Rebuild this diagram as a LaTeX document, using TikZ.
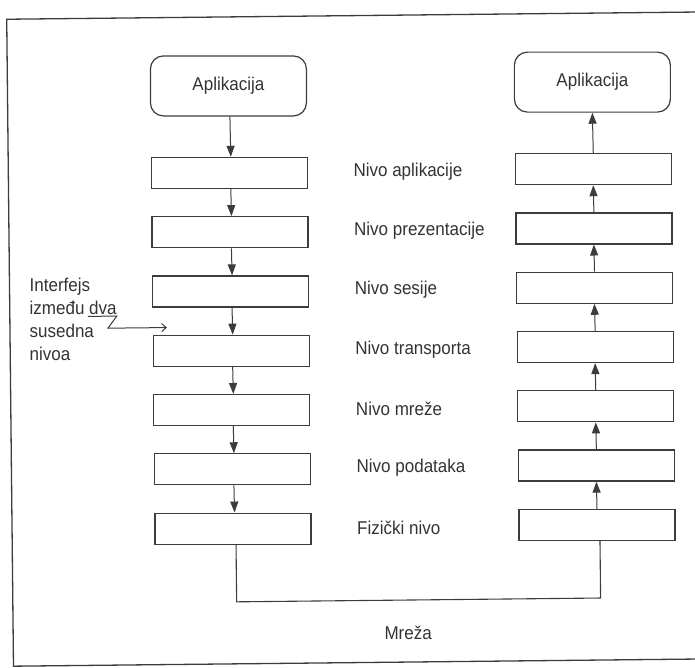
\documentclass[tikz,border=0pt]{standalone}
\usepackage{fontspec}
\setmainfont{Liberation Sans}[FakeStretch=0.92]
\usetikzlibrary{arrows.meta}
\definecolor{ink}{HTML}{3C3C3C}
\definecolor{txt}{HTML}{333333}
\begin{document}
\begin{tikzpicture}[x=1pt,y=-1pt,
  layerbox/.style={draw=ink, line width=1.2pt, minimum width=156pt, minimum height=31pt, inner sep=0pt},
  appbox/.style={draw=ink, line width=1.2pt, rounded corners=13pt, minimum width=156pt, minimum height=60pt,
    inner sep=0pt, text=txt, font=\fontsize{18.5}{21}\selectfont},
  lbl/.style={anchor=west, inner sep=0pt, text=txt, font=\fontsize{18.5}{21}\selectfont},
  flow/.style={draw=ink, line width=1pt, -{Triangle[length=11pt,width=8pt]}},
  wire/.style={draw=ink, line width=1.1pt},
  frameline/.style={draw=ink, line width=1.3pt}]
\useasboundingbox (0,0) rectangle (695,667);
\clip (0,0) rectangle (695,667);
\fill[white] (0,0) rectangle (695,667);
\begin{scope}[rotate around={0.6:(412,333)}]
  % outer frame (right edge lies beyond the page)
  \draw[frameline] (740,15) -- (10,15) -- (10,662) -- (740,662);

  % sending and receiving application
  \node[appbox] (lapp) at (231,84) {Aplikacija};
  \node[appbox] (rapp) at (595,84) {Aplikacija};

  % the seven layers on both sides, with their names in between
  \foreach \i/\name in {1/Nivo aplikacije, 2/Nivo prezentacije, 3/Nivo sesije,
                        4/Nivo transporta, 5/Nivo mreže, 6/Nivo podataka, 7/Fizički nivo}{
    \pgfmathsetmacro{\yy}{171+59.3*(\i-1)}
    \node[layerbox] (l\i) at (231,\yy) {};
    \node[layerbox] (r\i) at (595,\yy) {};
    \node[lbl] (n\i) at (355,\yy) {\name};
  }

  % data flows down on the left ...
  \draw[flow] ([xshift=1.5pt]lapp.south) -- ([xshift=1.5pt]l1.north);
  \foreach \a/\b in {1/2,2/3,3/4,4/5,5/6,6/7}{
    \draw[flow] ([xshift=1.5pt]l\a.south) -- ([xshift=1.5pt]l\b.north);
  }
  % ... and up on the right
  \foreach \a/\b in {7/6,6/5,5/4,4/3,3/2,2/1}{
    \draw[flow] (r\a.north) -- (r\b.south);
  }
  \draw[flow] (r1.north) -- (rapp.south);

  % physical link through the network
  \coordinate (bus) at (417,600);
  \draw[wire] ([xshift=3pt]l7.south) |- (bus) -| ([xshift=3pt]r7.south);
  \node[text=txt, font=\fontsize{18.5}{21}\selectfont, inner sep=0pt] (mreza) at (405,633) {Mreža};

  % interface annotation
  \node[anchor=north west, align=left, inner sep=0pt, text=txt,
        font=\fontsize{18.5}{23}\selectfont] (iface) at (30,274)
        {Interfejs\\između dva\\susedna\\nivoa};
  \coordinate (ulA) at (88,313);
  \coordinate (ulB) at (117,313);
  \coordinate (kink) at (108,325);
  \coordinate (ifTip) at (167,325);
  \draw[draw=ink, line width=1pt, -{Straight Barb[length=4.5pt,width=8pt]}]
    (ulA) -- (ulB) -- (kink) -- (ifTip);
\end{scope}
\end{tikzpicture}
\end{document}
